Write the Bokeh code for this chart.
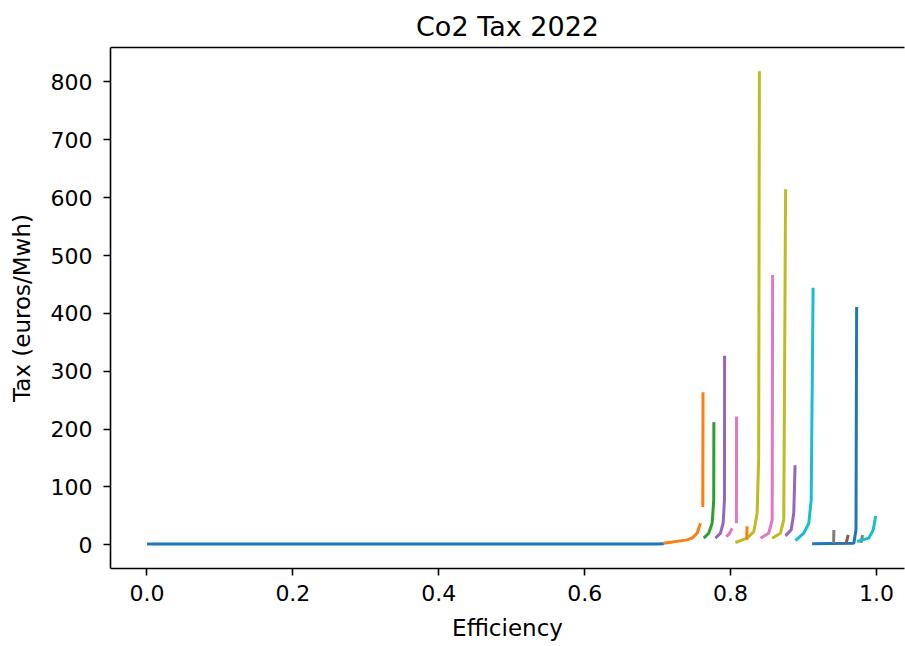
import numpy as np
from bokeh.plotting import figure
from bokeh.models import Range1d, LinearAxis, FixedTicker, PrintfTickFormatter
from bokeh.embed import file_html
from bokeh.resources import INLINE

nan = float("nan")

# ---- data (efficiency, tax in euros/Mwh) ----
blue1_x = [0.0, 0.35, 0.70, 0.7085]
blue1_y = [1.5, 1.5, 1.5, 2.0]

orange1_x = [0.7083, 0.7404, 0.7477, 0.7541, 0.7587, nan, 0.7619, 0.7622]
orange1_y = [2.9, 8.6, 12.0, 20.1, 37.3, nan, 65.4, 263.7]

green1_x = [0.7632, 0.7700, 0.7747, 0.7769, 0.7771]
green1_y = [11.5, 20.1, 37.3, 77.4, 212.1]

purple1_x = [0.7792, 0.7861, 0.7898, 0.7916, 0.7918]
purple1_y = [11.5, 20.1, 37.3, 77.4, 326.9]

pink1_x = [0.7940, 0.7981, 0.8021, nan, 0.8080, 0.8082]
pink1_y = [14.3, 18.9, 28.7, nan, 37.3, 221.9]

olive1_x = [0.8066, 0.8227, 0.8318, 0.8364, 0.8385, 0.8395]
olive1_y = [4.0, 11.5, 22.9, 54.5, 150.0, 818.4]

orange2_x = [0.8222, 0.8226]
orange2_y = [9.0, 32.0]

pink2_x = [0.8410, 0.8523, 0.8570, 0.8576]
pink2_y = [11.5, 20.1, 43.0, 466.2]

olive2_x = [0.8570, 0.8684, 0.8729, 0.8754]
olive2_y = [11.5, 20.1, 43.0, 614.7]

purple2_x = [0.8752, 0.8830, 0.8866, 0.8884]
purple2_y = [15.5, 25.8, 54.5, 137.6]

cyan1_x = [0.8889, 0.9003, 0.9072, 0.9105, 0.9131]
cyan1_y = [7.4, 20.1, 37.3, 77.4, 444.4]

blue2_x = [0.9118, 0.9689, 0.9719, 0.9728]
blue2_y = [1.7, 2.9, 25.8, 411.2]

gray1_x = [0.9412, 0.9416]
gray1_y = [2.9, 25.8]

brown1_x = [0.9585, 0.9612]
brown1_y = [2.9, 17.2]

gray2_x = [0.9790, 0.9808]
gray2_y = [3.4, 17.2]

cyan2_x = [0.9735, 0.9894, 0.9955, 0.9979, 0.9988]
cyan2_y = [5.7, 11.5, 25.8, 43.0, 50.0]

x_ticks = [0.0, 0.2, 0.4, 0.6, 0.8, 1.0]
y_ticks = [0, 100, 200, 300, 400, 500, 600, 700, 800]

series = [
    (blue1_x, blue1_y, "#1f77b4"),
    (orange1_x, orange1_y, "#ff7f0e"),
    (green1_x, green1_y, "#2ca02c"),
    (purple1_x, purple1_y, "#9467bd"),
    (pink1_x, pink1_y, "#e377c2"),
    (olive1_x, olive1_y, "#bcbd22"),
    (orange2_x, orange2_y, "#ff7f0e"),
    (pink2_x, pink2_y, "#e377c2"),
    (olive2_x, olive2_y, "#bcbd22"),
    (purple2_x, purple2_y, "#9467bd"),
    (cyan1_x, cyan1_y, "#17becf"),
    (blue2_x, blue2_y, "#1f77b4"),
    (gray1_x, gray1_y, "#7f7f7f"),
    (brown1_x, brown1_y, "#8c564b"),
    (gray2_x, gray2_y, "#7f7f7f"),
    (cyan2_x, cyan2_y, "#17becf"),
]

FONT = "DejaVu Sans"

p = figure(
    frame_width=794, frame_height=521,
    x_range=Range1d(-0.05, 1.0384), y_range=Range1d(-40.9, 859.6),
    output_backend="svg", toolbar_location=None,
    min_border_left=110, min_border_right=1, min_border_top=47, min_border_bottom=78,
    background_fill_color="white", border_fill_color="white",
)
p.outline_line_color = None
p.grid.visible = False

bx = p.below[0]
ly = p.left[0]

for xs, ys, c in series:
    p.line(np.array(xs, dtype=float), np.array(ys, dtype=float),
           line_color=c, line_width=3)

# top spine
top = LinearAxis(ticker=FixedTicker(ticks=[]), major_label_text_font_size="0px",
                 major_tick_line_color=None, minor_tick_line_color=None,
                 major_label_standoff=0,
                 axis_line_color="black", axis_line_width=1.6)
p.add_layout(top, "above")

for ax in (bx, ly):
    ax.axis_line_color = "black"
    ax.axis_line_width = 1.6
    ax.major_tick_line_color = "black"
    ax.major_tick_line_width = 1.6
    ax.major_tick_out = 7
    ax.major_tick_in = 0
    ax.minor_tick_line_color = None
    ax.major_label_text_font = FONT
    ax.major_label_text_font_size = "22px"
    ax.major_label_text_color = "black"
    ax.axis_label_text_font = FONT
    ax.axis_label_text_font_size = "23px"
    ax.axis_label_text_font_style = "normal"
    ax.axis_label_text_color = "black"

bx.ticker = FixedTicker(ticks=x_ticks)
bx.formatter = PrintfTickFormatter(format="%.1f")
bx.major_label_standoff = 9
bx.axis_label = "Efficiency"
bx.axis_label_standoff = 11
ly.ticker = FixedTicker(ticks=y_ticks)
ly.formatter = PrintfTickFormatter(format="%d")
ly.major_label_standoff = 11
ly.axis_label = "Tax (euros/Mwh)"
ly.axis_label_standoff = 13

p.title.text = "Co2 Tax 2022"
p.title.align = "center"
p.title.text_font = FONT
p.title.text_font_size = "27px"
p.title.text_font_style = "normal"
p.title.text_color = "black"
p.title.standoff = 12

open("out.html", "w").write(file_html(p, INLINE))
